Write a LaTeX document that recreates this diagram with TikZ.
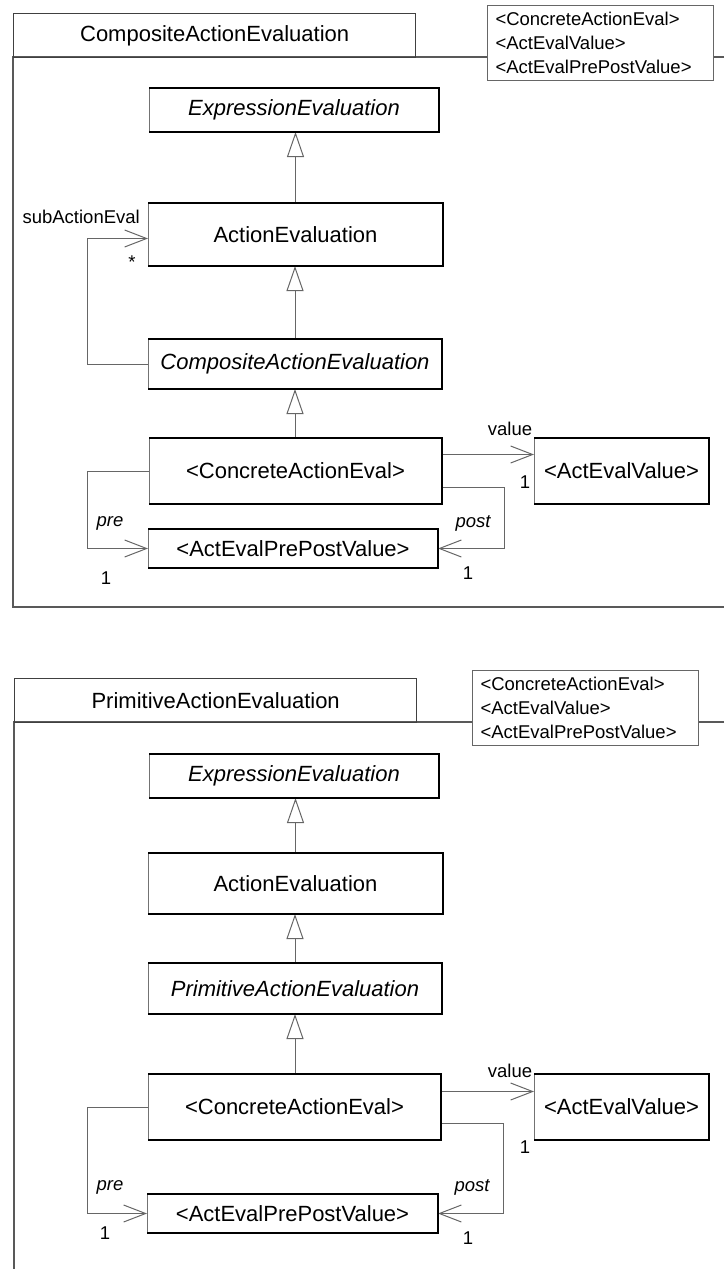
\documentclass[tikz,border=0pt]{standalone}
\usepackage{fontspec}
\setmainfont{Liberation Sans}
\usetikzlibrary{arrows.meta}
\begin{document}
\begin{tikzpicture}[x=1pt,y=-1pt,
  cls/.style={draw=black!55, line width=1pt, fill=white, inner sep=0pt, anchor=north west, font=\fontsize{22}{26}\selectfont},
  tabbox/.style={draw=black!75, line width=1.3pt, inner sep=0pt, anchor=north west, font=\fontsize{22}{26}\selectfont},
  tmpl/.style={draw=black!60, line width=1pt, fill=white, anchor=north west, inner xsep=8pt, inner ysep=0pt, text width=210pt, align=left, font=\fontsize{18.5}{24}\selectfont},
  lbl/.style={inner sep=0pt, font=\fontsize{18.5}{22}\selectfont},
  pkgline/.style={draw=black!65, line width=1.4pt},
  gen/.style={draw=black!60, line width=1pt, -{Triangle[open,length=25pt,width=17pt,line width=1pt]}},
  assoc/.style={draw=black!60, line width=1pt, -{Straight Barb[length=22pt,width=17pt,line width=1pt]}},
  edge/.style={line width=2pt, draw=black}
]
\useasboundingbox (0,0) rectangle (724,1269);

% ---------- top package ----------
\draw[pkgline] (724,57) -- (13,57) -- (13,607) -- (724,607);
\node[tabbox, minimum width=402pt, minimum height=44pt] (tab1) at (13,13) {CompositeActionEvaluation};
\node[tmpl, minimum height=75pt] (t1) at (487,5) {<ConcreteActionEval>\\<ActEvalValue>\\<ActEvalPrePostValue>};

\node[cls, minimum width=289pt, minimum height=43pt] (e1) at (149,88) {\itshape ExpressionEvaluation};
\node[cls, minimum width=294pt, minimum height=62pt] (a1) at (148,203) {ActionEvaluation};
\node[cls, minimum width=293pt, minimum height=49pt] (c1) at (148,339) {\itshape CompositeActionEvaluation};
\node[cls, minimum width=292pt, minimum height=65pt] (k1) at (149,438) {<ConcreteActionEval>};
\node[cls, minimum width=174pt, minimum height=65pt] (v1) at (534,438) {<ActEvalValue>};
\node[cls, minimum width=289pt, minimum height=38pt] (p1) at (148,529) {<ActEvalPrePostValue>};

\draw[gen] (a1.north) -- (a1.north |- e1.south);
\draw[gen] (c1.north) -- (c1.north |- a1.south);
\draw[gen] (k1.north -| c1.north) -- (c1.south);

\draw[assoc] (c1.west) -- ++(-61,0) |- ([yshift=-4pt]a1.west);
\draw[assoc] ([yshift=16.5pt]k1.east) -- ([yshift=16.5pt]k1.east -| v1.west);
\draw[assoc] (k1.west) -- ++(-62,0) |- (p1.west);
\draw[assoc] ([yshift=-16.5pt]k1.east) -- ++(62,0) |- (p1.east);

\node[lbl, anchor=east] (l1) at (140,217) {subActionEval};
\node[lbl] (m1) at (132,262) {*};
\node[lbl] (l2) at (510,429) {value};
\node[lbl] (m2) at (525,482) {1};
\node[lbl] (l3) at (110,523) {\itshape pre};
\node[lbl] (m3) at (106,578) {1};
\node[lbl] (l4) at (473,523) {\itshape post};
\node[lbl] (m4) at (468,573) {1};

% ---------- bottom package ----------
\draw[pkgline] (724,722) -- (14,722) -- (14,1275);
\node[tabbox, minimum width=402pt, minimum height=44pt] (tab2) at (14,678) {PrimitiveActionEvaluation};
\node[tmpl, minimum height=75pt] (t2) at (472,670) {<ConcreteActionEval>\\<ActEvalValue>\\<ActEvalPrePostValue>};

\node[cls, minimum width=289pt, minimum height=43pt] (e2) at (149,754) {\itshape ExpressionEvaluation};
\node[cls, minimum width=294pt, minimum height=60pt] (a2) at (148,853) {ActionEvaluation};
\node[cls, minimum width=293pt, minimum height=50pt] (r2) at (148,963) {\itshape PrimitiveActionEvaluation};
\node[cls, minimum width=292pt, minimum height=65pt] (k2) at (148,1074) {<ConcreteActionEval>};
\node[cls, minimum width=174pt, minimum height=65pt] (v2) at (534,1074) {<ActEvalValue>};
\node[cls, minimum width=290pt, minimum height=38pt] (p2) at (147,1194) {<ActEvalPrePostValue>};

\draw[gen] (a2.north) -- (a2.north |- e2.south);
\draw[gen] (r2.north) -- (r2.north |- a2.south);
\draw[gen] (k2.north -| r2.north) -- (r2.south);

\draw[assoc] ([yshift=15.5pt]k2.east) -- ([yshift=15.5pt]k2.east -| v2.west);
\draw[assoc] (k2.west) -- ++(-61,0) |- (p2.west);
\draw[assoc] ([yshift=-16.5pt]k2.east) -- ++(62,0) |- (p2.east);

\node[lbl] (l5) at (510,1071) {value};
\node[lbl] (m5) at (525,1147) {1};
\node[lbl] (l6) at (110,1187) {\itshape pre};
\node[lbl] (m6) at (105,1233) {1};
\node[lbl] (l7) at (472,1187) {\itshape post};
\node[lbl] (m7) at (468,1238) {1};

% heavier top/right/bottom edges of the class boxes
\foreach \n in {e1,a1,c1,k1,v1,p1,e2,a2,r2,k2,v2,p2}
  \draw[edge] (\n.north west) -- (\n.north east) -- (\n.south east) -- (\n.south west);
\end{tikzpicture}
\end{document}
